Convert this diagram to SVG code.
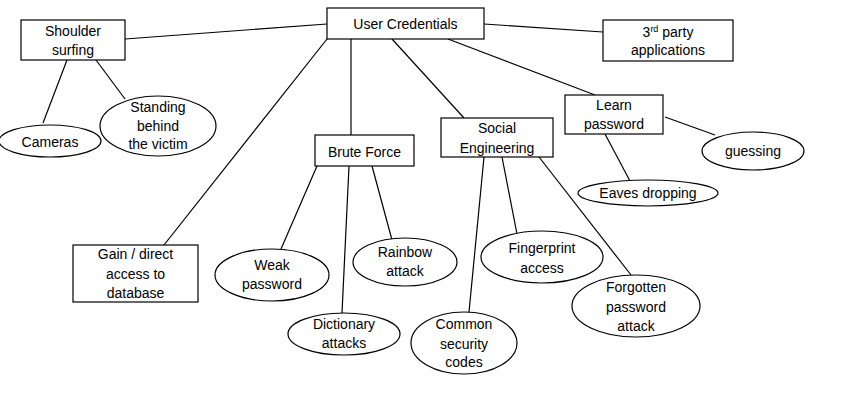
<svg xmlns="http://www.w3.org/2000/svg" width="842" height="403" viewBox="0 0 842 403">
<style>
.b{fill:#fff;stroke:#000;stroke-width:1.2}
.c line{stroke:#000;stroke-width:1.2}
text{font-family:"Liberation Sans",Arial,sans-serif;font-size:14px;fill:#000;text-anchor:middle}
</style>
<rect width="842" height="403" fill="#fff"/>
<g class="c" id="connectors">
<line x1="125" y1="39" x2="327" y2="24"/>
<line x1="67" y1="60" x2="43" y2="123"/>
<line x1="96" y1="60" x2="125" y2="99"/>
<line x1="327" y1="39" x2="164" y2="245"/>
<line x1="351" y1="39" x2="351" y2="135"/>
<line x1="392" y1="39" x2="464" y2="118"/>
<line x1="448" y1="39" x2="595" y2="95"/>
<line x1="484" y1="24" x2="603" y2="32"/>
<line x1="665" y1="117" x2="715" y2="135"/>
<line x1="605" y1="134" x2="630" y2="181"/>
<line x1="317" y1="166" x2="281" y2="249"/>
<line x1="349" y1="166" x2="342" y2="313"/>
<line x1="372" y1="166" x2="392" y2="240"/>
<line x1="484" y1="157" x2="469" y2="312"/>
<line x1="502" y1="157" x2="517" y2="234"/>
<line x1="539" y1="157" x2="631" y2="275"/>
</g>
<g id="user-credentials"><rect class="b" x="327" y="8" width="157" height="31"/><text x="405.5" y="29">User Credentials</text></g>
<g id="shoulder-surfing"><rect class="b" x="21" y="20" width="104" height="40"/><text x="73" y="36">Shoulder</text><text x="73" y="55">surfing</text></g>
<g id="third-party"><rect class="b" x="603" y="20" width="130" height="41"/><text x="668" y="37">3<tspan font-size="9" dy="-5">rd</tspan><tspan dy="5"> party</tspan></text><text x="668" y="55">applications</text></g>
<g id="learn-password"><rect class="b" x="565" y="95" width="98" height="39"/><text x="614" y="110">Learn</text><text x="614" y="129">password</text></g>
<g id="social-engineering"><rect class="b" x="441" y="118" width="112" height="39"/><text x="497" y="133">Social</text><text x="497" y="153">Engineering</text></g>
<g id="brute-force"><rect class="b" x="315" y="135" width="99" height="31"/><text x="364.5" y="157">Brute Force</text></g>
<g id="gain-access"><rect class="b" x="73" y="245" width="125" height="57"/><text x="135.5" y="259">Gain / direct</text><text x="135.5" y="279">access to</text><text x="135.5" y="298">database</text></g>
<g id="cameras"><ellipse class="b" cx="50" cy="141" rx="51" ry="16"/><text x="50" y="147">Cameras</text></g>
<g id="standing-behind"><ellipse class="b" cx="158" cy="126" rx="58" ry="30"/><text x="158" y="112">Standing</text><text x="158" y="131">behind</text><text x="158" y="149">the victim</text></g>
<g id="weak-password"><ellipse class="b" cx="272" cy="275" rx="57" ry="26"/><text x="272" y="270">Weak</text><text x="272" y="289">password</text></g>
<g id="dictionary-attacks"><ellipse class="b" cx="344" cy="334" rx="56" ry="21"/><text x="344" y="329">Dictionary</text><text x="344" y="348">attacks</text></g>
<g id="rainbow-attack"><ellipse class="b" cx="405" cy="262" rx="52" ry="24"/><text x="405" y="257">Rainbow</text><text x="405" y="276">attack</text></g>
<g id="fingerprint-access"><ellipse class="b" cx="542" cy="257" rx="61" ry="26"/><text x="542" y="253">Fingerprint</text><text x="542" y="273">access</text></g>
<g id="forgotten-password"><ellipse class="b" cx="636" cy="306" rx="64" ry="31"/><text x="636" y="292">Forgotten</text><text x="636" y="312">password</text><text x="636" y="331">attack</text></g>
<g id="common-codes"><ellipse class="b" cx="464" cy="343" rx="53" ry="31"/><text x="464" y="329">Common</text><text x="464" y="349">security</text><text x="464" y="367">codes</text></g>
<g id="eaves-dropping"><ellipse class="b" cx="648" cy="193" rx="70" ry="13"/><text x="648" y="198">Eaves dropping</text></g>
<g id="guessing"><ellipse class="b" cx="753" cy="151" rx="51" ry="19"/><text x="753" y="156">guessing</text></g>
</svg>
